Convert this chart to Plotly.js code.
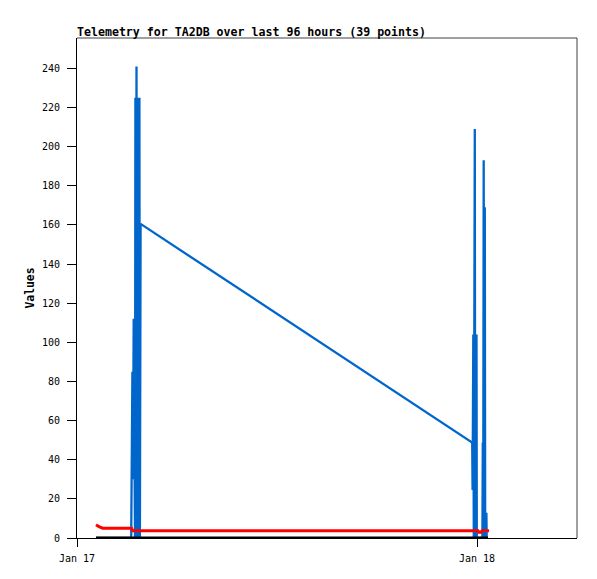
<!DOCTYPE html>
<html>
<head>
<meta charset="utf-8">
<script src="https://cdn.plot.ly/plotly-3.0.1.min.js"></script>
<style>
html,body{margin:0;padding:0;background:#fff;}
#chart{width:597px;height:579px;}
</style>
</head>
<body>
<div id="chart"></div>
<script>
// ---- data ----
var blueTimes = [
  '2024-01-17 01:08:24','2024-01-17 03:15:07','2024-01-17 03:16:34','2024-01-17 03:19:26',
  '2024-01-17 03:21:14','2024-01-17 03:24:07','2024-01-17 03:28:48','2024-01-17 03:30:14',
  '2024-01-17 03:32:02','2024-01-17 03:34:12','2024-01-17 03:36:00','2024-01-17 03:37:48',
  '2024-01-17 03:39:36','2024-01-17 03:41:24','2024-01-17 03:43:12','2024-01-17 03:44:38',
  '2024-01-17 03:46:26','2024-01-17 03:48:58',
  '2024-01-17 23:42:43','2024-01-17 23:44:10','2024-01-17 23:46:41','2024-01-17 23:48:29',
  '2024-01-17 23:50:17','2024-01-17 23:52:05','2024-01-17 23:53:31','2024-01-17 23:55:19',
  '2024-01-17 23:56:46','2024-01-17 23:58:12','2024-01-17 23:59:17',
  '2024-01-18 00:19:26','2024-01-18 00:20:53','2024-01-18 00:22:19','2024-01-18 00:24:07',
  '2024-01-18 00:25:34','2024-01-18 00:28:05','2024-01-18 00:29:31','2024-01-18 00:30:58',
  '2024-01-18 00:33:50','2024-01-18 00:34:55'
];
var blueValues = [
  0, 0, 28, 85,
  30, 112, 0, 225,
  0, 241, 0, 225,
  0, 225, 0, 225,
  0, 160.5,
  48.8, 24.5, 104, 0,
  104, 209, 0, 104,
  0, 104, 0,
  0, 48.8, 0, 193,
  0, 169, 0, 12.3,
  12.3, 0
];

var redTimes = [
  '2024-01-17 01:08:24','2024-01-17 01:13:48','2024-01-17 01:19:12','2024-01-17 01:32:31',
  '2024-01-17 03:16:12','2024-01-17 03:19:48','2024-01-18 00:03:36','2024-01-18 00:07:12',
  '2024-01-18 00:14:24','2024-01-18 00:18:00','2024-01-18 00:43:12'
];
var redValues = [6.8, 6.3, 5.8, 5.0, 5.0, 3.75, 3.75, 2.9, 2.9, 3.75, 3.75];

var blackTimes = ['2024-01-17 01:08:24', '2024-01-18 00:39:36'];
var blackValues = [0, 0];

var xRange = ['2024-01-17 00:00:00', '2024-01-18 06:00:00'];
var yRange = [0, 255.5];
var xTickVals = ['2024-01-17 00:00:00', '2024-01-18 00:00:00'];
var xTickText = ['Jan 17', 'Jan 18'];
var yTickVals = [0, 20, 40, 60, 80, 100, 120, 140, 160, 180, 200, 220, 240];

var titleText = 'Telemetry for TA2DB over last 96 hours (39 points)';
var yTitleText = 'Values';

// ---- chart ----
var mono = '"DejaVu Sans Mono", "Liberation Mono", monospace';

var traces = [
  {x: blueTimes, y: blueValues, type: 'scatter', mode: 'lines',
   line: {color: '#0066CC', width: 2.3, simplify: false}, hoverinfo: 'skip'},
  {x: redTimes, y: redValues, type: 'scatter', mode: 'lines',
   line: {color: '#FF0000', width: 3, simplify: false}, hoverinfo: 'skip'},
  {x: blackTimes, y: blackValues, type: 'scatter', mode: 'lines',
   line: {color: '#000000', width: 3, simplify: false}, hoverinfo: 'skip'}
];

var layout = {
  width: 597, height: 579,
  margin: {l: 77, r: 20, t: 38, b: 41, pad: 0},
  paper_bgcolor: '#ffffff', plot_bgcolor: '#ffffff',
  showlegend: false,
  title: {
    text: '<b>' + titleText + '</b>',
    font: {family: mono, size: 11.6, color: '#000'},
    x: 0, xref: 'paper', xanchor: 'left',
    y: 1 - 31.5 / 579, yref: 'container', yanchor: 'middle'
  },
  xaxis: {
    type: 'date', range: xRange, autorange: false,
    tickmode: 'array', tickvals: xTickVals, ticktext: xTickText,
    ticks: 'outside', ticklen: 8, tickwidth: 1, tickcolor: '#000',
    showline: true, linecolor: '#000', linewidth: 1,
    showgrid: false, zeroline: false,
    tickfont: {family: mono, size: 10, color: '#000'},
    ticklabelstandoff: 3
  },
  yaxis: {
    range: yRange, autorange: false,
    tickmode: 'array', tickvals: yTickVals,
    ticks: 'outside', ticklen: 9, tickwidth: 1, tickcolor: '#000',
    showline: true, linecolor: '#000', linewidth: 1,
    showgrid: false, zeroline: false,
    tickfont: {family: mono, size: 10, color: '#000'},
    ticklabelstandoff: 5,
    title: {text: '<b>' + yTitleText + '</b>', font: {family: mono, size: 11.4, color: '#000'}, standoff: 4}
  },
  shapes: [
    {type: 'line', xref: 'paper', yref: 'paper', x0: 0, x1: 1, y0: 1, y1: 1,
     line: {color: '#404040', width: 1}},
    {type: 'line', xref: 'paper', yref: 'paper', x0: 1, x1: 1, y0: 0, y1: 1,
     line: {color: '#404040', width: 1}}
  ]
};

Plotly.newPlot('chart', traces, layout, {displayModeBar: false, staticPlot: true});
</script>
</body>
</html>
